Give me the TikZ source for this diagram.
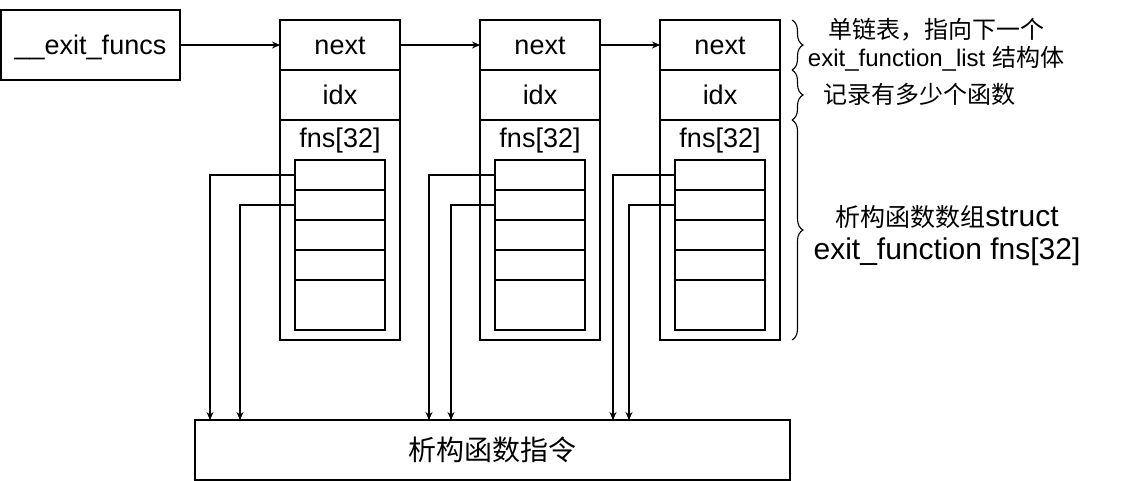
\documentclass[tikz,border=0pt]{standalone}
\usepackage{fontspec}
\setmainfont{Liberation Sans}
\newfontfamily\cjk{Noto Sans CJK SC}
\usetikzlibrary{arrows.meta,positioning,decorations.pathreplacing}

\tikzset{
  txt/.style={inner sep=0pt,outer sep=0pt,font=\fontsize{27}{32}\selectfont,text height=19.3pt,text depth=0pt},
  field/.style={txt,draw,line width=1.2pt,minimum width=120pt,minimum height=50pt},
  cell/.style={draw,line width=1.2pt,inner sep=0pt,outer sep=0pt,minimum width=90pt,minimum height=30pt},
  ptr/.style={-{Stealth[length=8pt,width=7pt]},line width=1.1pt},
  brc/.style={decorate,decoration={brace,amplitude=11pt},line width=1.1pt},
  note/.style={align=center,inner sep=0pt,font=\fontsize{24}{28}\selectfont},
}

\begin{document}
\begin{tikzpicture}[x=1pt,y=-1pt]
  \useasboundingbox (0,0) rectangle (1131,481);

  % Head pointer and the destructor code
  \node[field,minimum width=179pt,minimum height=70pt] (head) at (90.5,45) {\_\_exit\_funcs};
  \node[field,minimum width=595pt,minimum height=60pt,font=\fontsize{28}{32}\cjk,text height=21.3pt] (cmd) at (492.5,450) {析构函数指令};

  % The three exit_function_list blocks
  \foreach \i/\x/\xa/\xb in {1/340/210/240, 2/540/429/451, 3/720/613/629} {
    \node[field] (next\i) at (\x,45) {next};
    \node[field,below=0pt of next\i] (idx\i) {idx};
    \node[field,below=0pt of idx\i,minimum height=220pt] (fns\i) {};
    \node[txt] (fnsname\i) at (\x,138) {fns[32]};

    % fns[32] array
    \node[cell] (c\i1) at (\x,175) {};
    \node[cell,below=0pt of c\i1] (c\i2) {};
    \node[cell,below=0pt of c\i2] (c\i3) {};
    \node[cell,below=0pt of c\i3] (c\i4) {};
    \node[cell,below=0pt of c\i4,minimum height=50pt] (c\i5) {};

    % Entries point to the code
    \coordinate (da\i) at (\xa,0);
    \coordinate (db\i) at (\xb,0);
    \draw[ptr] (c\i1.west) -| (da\i |- cmd.north);
    \draw[ptr] (c\i2.west) -| (db\i |- cmd.north);
  }

  % Singly linked list
  \draw[ptr] (head) -- (next1);
  \draw[ptr] (next1) -- (next2);
  \draw[ptr] (next2) -- (next3);

  % Braces and notes
  \draw[brc] (792,20) -- (792,70);
  \draw[brc] (792,70) -- (792,120);
  \draw[brc] (792,120) -- (792,340);
  \node[note] (listnote) at (936,45) {{\cjk 单链表，指向下一个}\\exit\_function\_list {\cjk 结构体}};
  \node[note] (idxnote) at (919,94) {\cjk 记录有多少个函数};
  \node[note,font=\fontsize{30}{33}\selectfont] (fnsnote) at (947,236) {{\fontsize{25}{33}\cjk 析构函数数组}struct\\exit\_function fns[32]};
\end{tikzpicture}
\end{document}
